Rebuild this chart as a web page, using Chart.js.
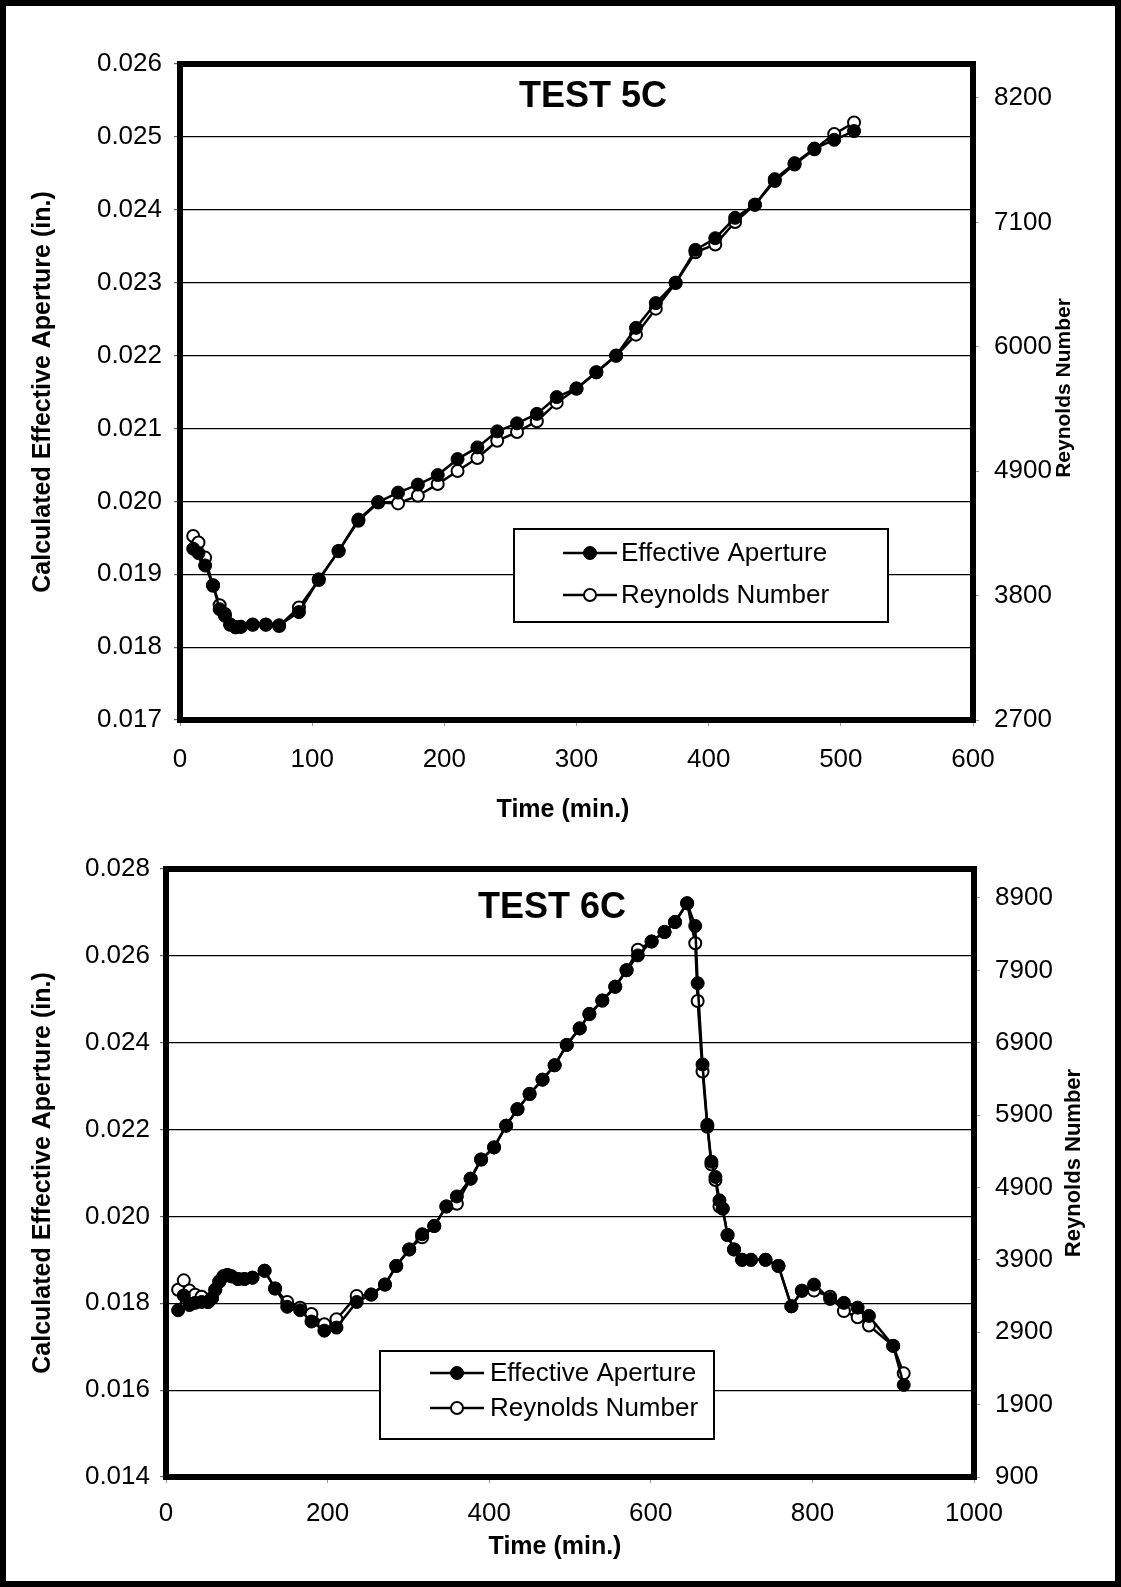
<!DOCTYPE html>
<html>
<head>
<meta charset="utf-8">
<script src="https://cdn.jsdelivr.net/npm/chart.js@4.4.0/dist/chart.umd.min.js"></script>
<style>
  html, body { margin: 0; padding: 0; background: #fff; }
  #page { position: relative; width: 1121px; height: 1587px; background: #fff; overflow: hidden; }
  #frame { position: absolute; left: 0; top: 0; width: 1121px; height: 1587px; box-sizing: border-box;
           border: 6px solid #000; pointer-events: none; }
  #c5 { position: absolute; left: 0; top: 0; }
  #c6 { position: absolute; left: 0; top: 830px; }
</style>
</head>
<body>
<div id="page">
  <canvas id="c5" width="1121" height="830"></canvas>
  <canvas id="c6" width="1121" height="757"></canvas>
  <div id="frame"></div>
</div>
<script>
// ---- TEST 5C ----
const time5 = [10, 14, 19, 25, 30, 34, 38, 42, 46, 55, 65, 75, 90, 105, 120, 135, 150, 165, 180, 195,
  210, 225, 240, 255, 270, 285, 300, 315, 330, 345, 360, 375, 390, 405, 420, 435, 450, 465, 480, 495, 510];
const aperture5 = [0.01935, 0.01929, 0.01912, 0.01885, 0.01852, 0.01843, 0.01831, 0.01827, 0.01828, 0.01831,
  0.01831, 0.01830, 0.01848, 0.01893, 0.01932, 0.01975, 0.01999, 0.02012, 0.02023, 0.02036,
  0.02058, 0.02074, 0.02096, 0.02107, 0.02120, 0.02143, 0.02155, 0.02177, 0.02200, 0.02238,
  0.02272, 0.02300, 0.02345, 0.02361, 0.02389, 0.02407, 0.02442, 0.02464, 0.02484, 0.02496, 0.02508];
const reynolds5 = [4327, 4270, 4136, 3887, 3715, 3638, 3542, 3523, 3523, 3542,
  3542, 3531, 3695, 3937, 4193, 4461, 4622, 4615, 4683, 4786,
  4901, 5016, 5169, 5246, 5342, 5506, 5629, 5774, 5920, 6107,
  6337, 6563, 6835, 6904, 7103, 7256, 7466, 7612, 7746, 7880, 7983];
const timeTicks5 = [0, 100, 200, 300, 400, 500, 600];
const apertureTicks5 = [0.017, 0.018, 0.019, 0.020, 0.021, 0.022, 0.023, 0.024, 0.025, 0.026];
const reynoldsTicks5 = [2700, 3800, 4900, 6000, 7100, 8200];

// ---- TEST 6C ----
const time6 = [15, 22, 29, 36, 44, 52, 57, 61, 66, 71, 76, 81, 89, 97, 107, 122, 135, 150, 166, 180,
  196, 211, 236, 254, 271, 285, 301, 317, 332, 347, 360, 377, 390, 406, 421, 435, 450, 466, 481, 496,
  512, 524, 540, 556, 570, 584, 601, 617, 630, 645, 655, 658, 664, 670, 675, 680, 685, 689, 695, 703,
  713, 724, 742, 758, 774, 787, 802, 822, 839, 856, 870, 900, 913];
const aperture6 = [0.01784, 0.01818, 0.01796, 0.01801, 0.01803, 0.01803, 0.01812, 0.01831, 0.01850, 0.01862,
  0.01865, 0.01862, 0.01856, 0.01856, 0.01859, 0.01875, 0.01834, 0.01792, 0.01784, 0.01758,
  0.01737, 0.01744, 0.01803, 0.01820, 0.01843, 0.01886, 0.01924, 0.01959, 0.01978, 0.02023,
  0.02046, 0.02087, 0.02131, 0.02159, 0.02209, 0.02247, 0.02282, 0.02315, 0.02348, 0.02395,
  0.02433, 0.02466, 0.02497, 0.02529, 0.02567, 0.02601, 0.02633, 0.02655, 0.02678, 0.02721,
  0.02669, 0.02537, 0.02350, 0.02211, 0.02126, 0.02091, 0.02037, 0.02018, 0.01957, 0.01924,
  0.01900, 0.01900, 0.01900, 0.01886, 0.01793, 0.01829, 0.01843, 0.01810, 0.01801, 0.01790,
  0.01771, 0.01702, 0.01612];
const reynolds6 = [3487, 3617, 3475, 3419, 3390, 3318, 3372, 3486, 3600, 3672,
  3690, 3672, 3636, 3636, 3654, 3750, 3504, 3317, 3238, 3153,
  3011, 3079, 3402, 3420, 3558, 3816, 4044, 4211, 4368, 4638,
  4675, 5022, 5286, 5454, 5754, 5982, 6192, 6390, 6588, 6870,
  7098, 7296, 7482, 7674, 7902, 8184, 8298, 8430, 8568, 8826,
  8275, 7477, 6503, 5739, 5219, 5004, 4636, 4608, 4242, 4044,
  3900, 3900, 3900, 3816, 3258, 3474, 3475, 3390, 3192, 3107,
  2994, 2711, 2332];
const timeTicks6 = [0, 200, 400, 600, 800, 1000];
const apertureTicks6 = [0.014, 0.016, 0.018, 0.020, 0.022, 0.024, 0.026, 0.028];
const reynoldsTicks6 = [900, 1900, 2900, 3900, 4900, 5900, 6900, 7900, 8900];

const FONT = '"Liberation Sans", Arial, Helvetica, sans-serif';
Chart.defaults.font.family = FONT;
Chart.defaults.color = '#000';

const pairs = (xs, ys) => xs.map((x, i) => ({ x: x, y: ys[i] }));
const fixedTicks = list => scale => { scale.ticks = list.map(v => ({ value: v })); };

// Frame, in-plot title, axis titles and boxed legend
const panelDecor = {
  id: 'panelDecor',
  afterDatasetsDraw(chart, args, o) {
    const ctx = chart.ctx;
    const a = chart.chartArea;
    ctx.save();
    // heavy plot frame
    ctx.strokeStyle = '#000';
    ctx.lineWidth = 6;
    ctx.strokeRect(a.left, a.top, a.right - a.left, a.bottom - a.top);

    // panel title inside the plot
    ctx.fillStyle = '#000';
    ctx.font = 'bold 36px ' + FONT;
    ctx.textAlign = 'center';
    ctx.textBaseline = 'middle';
    ctx.fillText(o.title, o.titleX, o.titleY);

    // time axis title
    ctx.font = 'bold 25px ' + FONT;
    ctx.fillText('Time (min.)', o.xTitleX, o.xTitleY);

    // secondary axis title, reading bottom to top
    ctx.save();
    ctx.translate(o.rightTitleX, (a.top + a.bottom) / 2 + o.rightTitleShift);
    ctx.rotate(-Math.PI / 2);
    ctx.font = 'bold ' + o.rightTitleSize + 'px ' + FONT;
    ctx.fillText(o.rightTitle, 0, 0);
    ctx.restore();

    // legend box
    const L = o.legend;
    ctx.fillStyle = '#fff';
    ctx.fillRect(L.x, L.y, L.w, L.h);
    ctx.lineWidth = 2;
    ctx.strokeStyle = '#000';
    ctx.strokeRect(L.x, L.y, L.w, L.h);
    chart.data.datasets.forEach((ds, i) => {
      const ry = L.rows[i];
      ctx.beginPath();
      ctx.lineWidth = ds.borderWidth;
      ctx.moveTo(L.lineX0, ry);
      ctx.lineTo(L.lineX1, ry);
      ctx.stroke();
      ctx.beginPath();
      ctx.arc((L.lineX0 + L.lineX1) / 2, ry, ds.pointRadius, 0, Math.PI * 2);
      ctx.fillStyle = ds.pointBackgroundColor;
      ctx.fill();
      ctx.lineWidth = ds.pointBorderWidth;
      ctx.strokeStyle = ds.pointBorderColor;
      ctx.stroke();
      ctx.fillStyle = '#000';
      ctx.font = '26px ' + FONT;
      ctx.textAlign = 'left';
      ctx.textBaseline = 'middle';
      ctx.fillText(ds.label, L.textX, ry + 1);
    });
    ctx.restore();
  }
};

function panel(id, p) {
  return new Chart(document.getElementById(id), {
    type: 'line',
    data: {
      datasets: [
        { label: 'Effective Aperture', data: pairs(p.time, p.aperture), yAxisID: 'y',
          borderColor: '#000', borderWidth: 2.5, pointRadius: 6.5, pointBackgroundColor: '#000',
          pointBorderColor: '#000', pointBorderWidth: 1, tension: 0 },
        { label: 'Reynolds Number', data: pairs(p.time, p.reynolds), yAxisID: 'y1',
          borderColor: '#000', borderWidth: 2.5, pointRadius: 6, pointBackgroundColor: '#fff',
          pointBorderColor: '#000', pointBorderWidth: 2, tension: 0 }
      ]
    },
    options: {
      responsive: false,
      animation: false,
      layout: { padding: p.padding },
      plugins: { legend: { display: false }, tooltip: { enabled: false }, panelDecor: p.decor },
      scales: {
        x: {
          type: 'linear', position: 'bottom', min: p.xMin, max: p.xMax,
          afterBuildTicks: fixedTicks(p.xTicks),
          afterFit: s => { s.height = p.xHeight; },
          grid: { drawOnChartArea: false, drawTicks: true, tickLength: 6, tickColor: '#999' },
          border: { display: false },
          ticks: { font: { size: 26 }, color: '#000', padding: p.xPad, maxRotation: 0,
                   callback: v => String(v) }
        },
        y: {
          type: 'linear', position: 'left', min: p.aMin, max: p.aMax,
          afterBuildTicks: fixedTicks(p.aTicks),
          afterFit: s => { s.width = p.yWidth; },
          grid: { color: '#000', lineWidth: 1.2, drawTicks: true, tickLength: 6, tickColor: '#666' },
          border: { display: false },
          ticks: { font: { size: 26 }, color: '#000', padding: p.yPad, callback: v => v.toFixed(3) },
          title: { display: true, text: 'Calculated Effective Aperture (in.)', color: '#000',
                   font: { size: 25, weight: 'bold' }, padding: { top: 28, bottom: 0 } }
        },
        y1: {
          type: 'linear', position: 'right', min: p.rMin, max: p.rMax,
          afterBuildTicks: fixedTicks(p.rTicks),
          afterFit: s => { s.width = p.y1Width; },
          grid: { drawOnChartArea: false, drawTicks: true, tickLength: 6, tickColor: '#999' },
          border: { display: false },
          ticks: { font: { size: 26 }, color: '#000', padding: 15, callback: v => String(v) }
        }
      }
    },
    plugins: [panelDecor]
  });
}

panel('c5', {
  time: time5, aperture: aperture5, reynolds: reynolds5,
  xMin: 0, xMax: 600, xTicks: timeTicks5,
  aMin: 0.017, aMax: 0.026, aTicks: apertureTicks5,
  rMin: 2700, rMax: 8500, rTicks: reynoldsTicks5,
  padding: { left: 0, right: 0, top: 64, bottom: 6 },
  xHeight: 104, xPad: 18, yWidth: 180, yPad: 12, y1Width: 148,
  decor: {
    title: 'TEST 5C', titleX: 593, titleY: 97,
    xTitleX: 563, xTitleY: 810,
    rightTitle: 'Reynolds Number', rightTitleX: 1064, rightTitleSize: 21, rightTitleShift: -4,
    legend: { x: 514, y: 529, w: 374, h: 93, rows: [553, 595], lineX0: 563, lineX1: 617, textX: 621 }
  }
});

panel('c6', {
  time: time6, aperture: aperture6, reynolds: reynolds6,
  xMin: 0, xMax: 1000, xTicks: timeTicks6,
  aMin: 0.014, aMax: 0.028, aTicks: apertureTicks6,
  rMin: 900, rMax: 9300, rTicks: reynoldsTicks6,
  padding: { left: 0, right: 0, top: 39, bottom: 25 },
  xHeight: 85, xPad: 15, yWidth: 166, yPad: 10, y1Width: 147,
  decor: {
    title: 'TEST 6C', titleX: 552, titleY: 78,
    xTitleX: 555, xTitleY: 717,
    rightTitle: 'Reynolds Number', rightTitleX: 1074, rightTitleSize: 22, rightTitleShift: -10,
    legend: { x: 380, y: 521, w: 334, h: 88, rows: [543, 578], lineX0: 430, lineX1: 484, textX: 490 }
  }
});
</script>
</body>
</html>
